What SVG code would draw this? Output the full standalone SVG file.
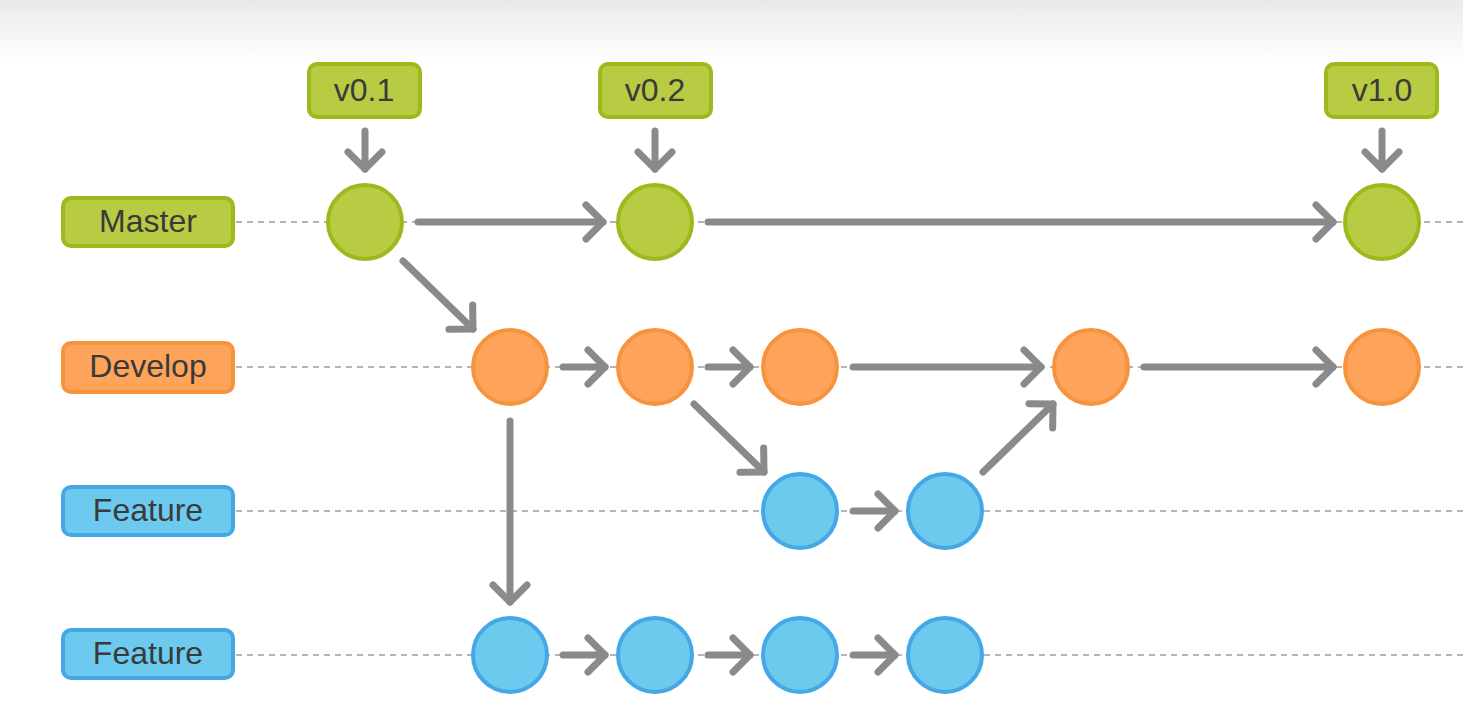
<svg xmlns="http://www.w3.org/2000/svg" width="1463" height="713" viewBox="0 0 1463 713">
<defs>
<linearGradient id="bg" x1="0" y1="0" x2="0" y2="1">
<stop offset="0" stop-color="#e9e9e9"/>
<stop offset="1" stop-color="#ffffff"/>
</linearGradient>
<marker id="ah" markerUnits="userSpaceOnUse" markerWidth="44" markerHeight="44" viewBox="-22 -22 44 44" refX="0" refY="0" orient="auto">
<path d="M-17,-17 L0,0 L-17,17" fill="none" stroke="#8a8a8a" stroke-width="7" stroke-linecap="round" stroke-linejoin="round"/>
</marker>
</defs>
<style>
.lbl{font-family:"Liberation Sans",Arial,sans-serif;font-size:32px;fill:#3a3a3a;text-anchor:middle;dominant-baseline:central}
.g{fill:#b8cb43;stroke:#9cba1c;stroke-width:4}
.o{fill:#fda45a;stroke:#f8933d;stroke-width:4}
.b{fill:#6ccaee;stroke:#45a8e6;stroke-width:4}
.dash{stroke:#b5b5b5;stroke-width:2;stroke-dasharray:6 5;fill:none}
.arr{stroke:#8a8a8a;stroke-width:7;stroke-linecap:round;fill:none;marker-end:url(#ah)}
</style>
<rect x="0" y="0" width="1463" height="62" fill="url(#bg)"/>
<g id="lanes">
<line class="dash" x1="236" y1="222" x2="1463" y2="222"/>
<line class="dash" x1="236" y1="367" x2="1463" y2="367"/>
<line class="dash" x1="236" y1="511" x2="1463" y2="511"/>
<line class="dash" x1="236" y1="655" x2="1463" y2="655"/>
</g>
<g id="connectors">
<line class="arr" x1="365" y1="131" x2="365" y2="169"/>
<line class="arr" x1="655" y1="131" x2="655" y2="169"/>
<line class="arr" x1="1382" y1="131" x2="1382" y2="169"/>
<line class="arr" x1="418" y1="222" x2="603" y2="222"/>
<line class="arr" x1="708" y1="222" x2="1333" y2="222"/>
<line class="arr" x1="403" y1="261" x2="473" y2="329"/>
<line class="arr" x1="563" y1="367" x2="605" y2="367"/>
<line class="arr" x1="708" y1="367" x2="750" y2="367"/>
<line class="arr" x1="853" y1="367" x2="1041" y2="367"/>
<line class="arr" x1="1144" y1="367" x2="1333" y2="367"/>
<line class="arr" x1="694" y1="404" x2="764" y2="472"/>
<line class="arr" x1="853" y1="511" x2="895" y2="511"/>
<line class="arr" x1="983" y1="472" x2="1053" y2="404"/>
<line class="arr" x1="510" y1="421" x2="510" y2="602"/>
<line class="arr" x1="563" y1="655" x2="605" y2="655"/>
<line class="arr" x1="708" y1="655" x2="750" y2="655"/>
<line class="arr" x1="853" y1="655" x2="895" y2="655"/>
</g>
<g id="label-master"><rect class="g" x="63" y="198" width="170" height="48" rx="8"/><text class="lbl" x="148" y="221">Master</text></g>
<g id="label-develop"><rect class="o" x="63" y="343" width="170" height="49" rx="8"/><text class="lbl" x="148" y="366">Develop</text></g>
<g id="label-feature1"><rect class="b" x="63" y="487" width="170" height="48" rx="8"/><text class="lbl" x="148" y="510">Feature</text></g>
<g id="label-feature2"><rect class="b" x="63" y="630" width="170" height="48" rx="8"/><text class="lbl" x="148" y="653">Feature</text></g>
<g id="tag-v01"><rect class="g" x="309" y="64" width="111" height="53" rx="8"/><text class="lbl" x="364" y="90">v0.1</text></g>
<g id="tag-v02"><rect class="g" x="600" y="64" width="111" height="53" rx="8"/><text class="lbl" x="655" y="90">v0.2</text></g>
<g id="tag-v10"><rect class="g" x="1326" y="64" width="111" height="53" rx="8"/><text class="lbl" x="1382" y="90">v1.0</text></g>
<g id="m1"><circle class="g" cx="365" cy="222" r="37"/></g>
<g id="m2"><circle class="g" cx="655" cy="222" r="37"/></g>
<g id="m3"><circle class="g" cx="1382" cy="222" r="37"/></g>
<g id="d1"><circle class="o" cx="510" cy="367" r="37"/></g>
<g id="d2"><circle class="o" cx="655" cy="367" r="37"/></g>
<g id="d3"><circle class="o" cx="800" cy="367" r="37"/></g>
<g id="d4"><circle class="o" cx="1091" cy="367" r="37"/></g>
<g id="d5"><circle class="o" cx="1382" cy="367" r="37"/></g>
<g id="f1a"><circle class="b" cx="800" cy="511" r="37"/></g>
<g id="f1b"><circle class="b" cx="945" cy="511" r="37"/></g>
<g id="f2a"><circle class="b" cx="510" cy="655" r="37"/></g>
<g id="f2b"><circle class="b" cx="655" cy="655" r="37"/></g>
<g id="f2c"><circle class="b" cx="800" cy="655" r="37"/></g>
<g id="f2d"><circle class="b" cx="945" cy="655" r="37"/></g>
</svg>
